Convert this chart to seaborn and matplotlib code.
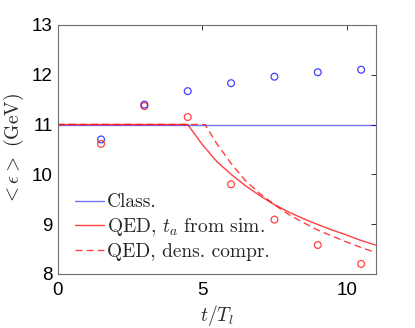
import numpy as np
import seaborn as sns
import matplotlib.pyplot as plt

# simulation points (t/T_l)
t_sim = [1.5, 3.0, 4.5, 6.0, 7.5, 9.0, 10.5]
eps_class_sim = [10.70, 11.40, 11.67, 11.83, 11.96, 12.05, 12.10]
eps_qed_sim = [10.61, 11.37, 11.15, 9.80, 9.09, 8.58, 8.20]

# classical model: constant
t_class = [0, 11]
eps_class = [11.0, 11.0]

# QED model, t_a from simulation
t_qed = [0, 4.5, 5.0, 5.5, 6.0, 6.5, 7.0, 7.5, 8.0, 8.5, 9.0, 9.5, 10.0, 10.5, 11.0]
eps_qed = [11.0, 11.0, 10.60, 10.26, 10.00, 9.77, 9.57, 9.39, 9.24, 9.11, 8.99, 8.88, 8.78, 8.67, 8.58]

# QED model, density compression
t_dens = [0, 5.1, 5.5, 6.0, 6.5, 7.0, 7.5, 8.0, 8.5, 9.0, 9.5, 10.0, 10.5, 11.0]
eps_dens = [11.0, 11.0, 10.62, 10.22, 9.87, 9.61, 9.39, 9.19, 9.03, 8.88, 8.76, 8.64, 8.53, 8.43]

sns.set_style("white")
plt.rcParams['mathtext.fontset'] = 'cm'
plt.rcParams['font.family'] = ['Liberation Sans', 'DejaVu Sans']

fig = plt.figure(figsize=(4.15, 3.28), dpi=100)
ax = fig.add_axes([0.139, 0.165, 0.766, 0.759])

sns.lineplot(x=t_class, y=eps_class, color='blue', alpha=0.55, lw=1.0, ax=ax, label='Class.')
sns.lineplot(x=t_qed, y=eps_qed, color='red', alpha=0.75, lw=1.0, ax=ax, label=r'QED, $t_a$ from sim.')
sns.lineplot(x=t_dens, y=eps_dens, color='red', alpha=0.75, lw=1.0, linestyle=(0, (5, 3)),
             ax=ax, label='QED, dens. compr.')
sns.scatterplot(x=t_sim, y=eps_class_sim, marker='o', s=24, facecolors='none', edgecolor='blue',
                linewidth=0.9, alpha=0.75, ax=ax)
sns.scatterplot(x=t_sim, y=eps_qed_sim, marker='o', s=24, facecolors='none', edgecolor='red',
                linewidth=0.9, alpha=0.75, ax=ax)

ax.set_xlim(0, 11)
ax.set_ylim(8, 13)
ax.set_xticks([0, 5, 10])
ax.set_yticks([8, 9, 10, 11, 12, 13])
ax.tick_params(direction='in', length=3.5, width=0.7, labelsize=13.5, top=True, right=True,
               colors='#333333', labelcolor='black')
ax.tick_params(axis='x', pad=6)
for s in ax.spines.values():
    s.set_color('#6e6e6e')
    s.set_linewidth(0.8)

ax.set_xlabel(r'$t/T_l$', fontsize=14, labelpad=3)
ax.set_ylabel(r'$<\epsilon>$ (GeV)', fontsize=14, family='cmr10', labelpad=4)

leg = ax.legend(loc='lower left', frameon=False, prop={'family': 'cmr10', 'size': 14},
                handlelength=1.5, handletextpad=0.15, labelspacing=0.25,
                borderaxespad=0.0, bbox_to_anchor=(0.03, 0.02))

fig.savefig('out.png', dpi=100)
